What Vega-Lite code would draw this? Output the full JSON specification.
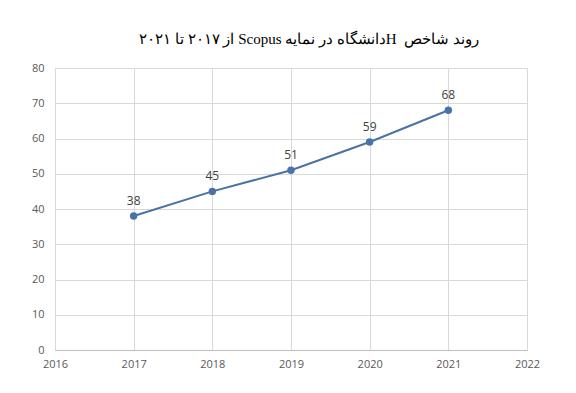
{
  "$schema": "https://vega.github.io/schema/vega-lite/v6.json",
  "width": 472,
  "height": 282,
  "autosize": {"type": "none"},
  "padding": {"left": 55, "top": 68, "right": 49, "bottom": 43},
  "background": "white",
  "config": {
    "view": {"stroke": "#d9d9d9", "strokeWidth": 1},
    "axis": {"labelFont": "Open Sans", "labelFontSize": 11, "labelColor": "#595959", "gridColor": "#d9d9d9", "ticks": false, "title": null}
  },
  "title": {
    "text": "\u202bروند شاخص \u00a0Hدانشگاه در نمایه Scopus از ٢٠١٧ تا ٢٠٢١\u202c",
    "font": "Liberation Serif",
    "fontSize": 15,
    "fontWeight": "normal",
    "color": "#000000",
    "anchor": "middle",
    "dx": 18,
    "offset": 15
  },
  "data": {
    "values": [
      {"year": 2017, "value": 38},
      {"year": 2018, "value": 45},
      {"year": 2019, "value": 51},
      {"year": 2020, "value": 59},
      {"year": 2021, "value": 68}
    ]
  },
  "encoding": {
    "x": {"field": "year", "type": "quantitative", "scale": {"domain": [2016, 2022], "nice": false, "zero": false},
      "axis": {"values": [2016, 2017, 2018, 2019, 2020, 2021, 2022], "format": "d", "labelPadding": 8, "domainColor": "#bfbfbf", "labelFlush": false}},
    "y": {"field": "value", "type": "quantitative", "scale": {"domain": [0, 80], "nice": false},
      "axis": {"values": [0, 10, 20, 30, 40, 50, 60, 70, 80], "labelPadding": 11, "domainColor": "#d9d9d9"}}
  },
  "layer": [
    {"mark": {"type": "line", "color": "#4a72a8", "strokeWidth": 2}},
    {"mark": {"type": "point", "filled": true, "color": "#4a72a8", "size": 55, "opacity": 1}},
    {"mark": {"type": "text", "dy": -15, "font": "Open Sans", "fontSize": 12, "color": "#404040"},
      "encoding": {"text": {"field": "value", "type": "quantitative"}}}
  ]
}
